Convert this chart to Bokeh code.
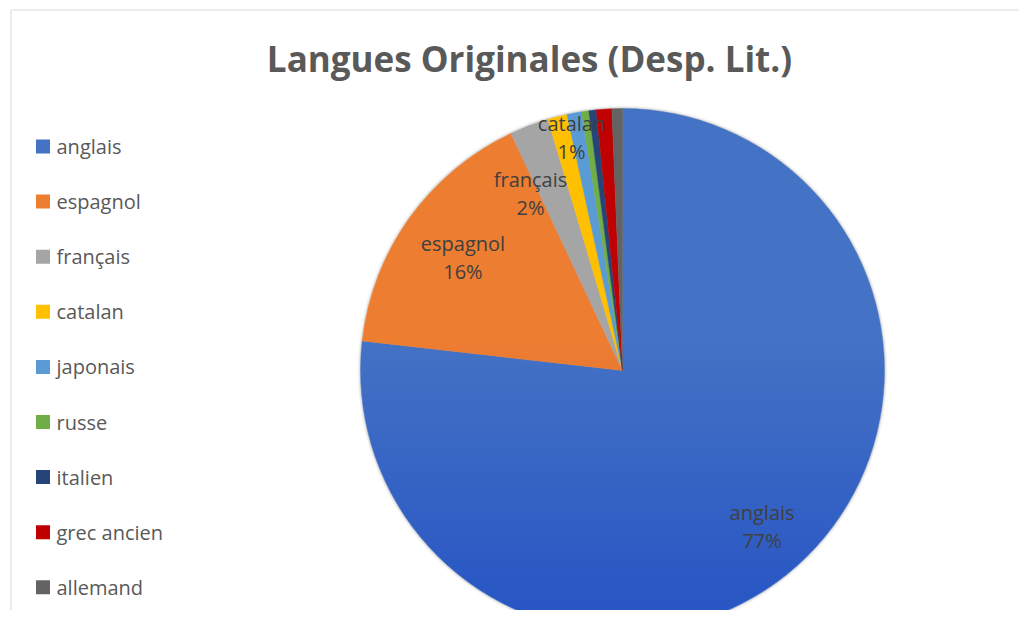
import numpy as np
from bokeh.plotting import figure
from bokeh.models import Range1d, ColumnDataSource
from bokeh.embed import file_html
from bokeh.resources import INLINE
from bokeh.core.properties import value

# ---- data ----
categories = ["anglais", "espagnol", "français", "catalan", "japonais",
              "russe", "italien", "grec ancien", "allemand"]
values = [76.8, 16.2, 2.4, 1.2, 0.9, 0.45, 0.45, 0.95, 0.65]
colors = ["#4472C4", "#ED7D31", "#A5A5A5", "#FFC000", "#5B9BD5",
          "#70AD47", "#264478", "#C00000", "#636363"]
labelled = ["anglais", "espagnol", "français", "catalan"]
title_text = "Langues Originales (Desp. Lit.)"

# ---- layout ----
W, H = 1019, 610
def px(x):  # picture x -> data x
    return x
def py(y):  # picture y -> data y
    return H - y

cx, cy, R = px(622), py(370), 262

p = figure(width=W, height=H, x_range=Range1d(0, W), y_range=Range1d(0, H),
           output_backend="svg", toolbar_location=None, min_border=0)
p.axis.visible = False
p.grid.visible = False
p.outline_line_color = None
p.background_fill_color = "white"
p.border_fill_color = "white"

# chart area border (left and top visible)
p.line([px(10.5), px(10.5), W + 5], [-5, py(9.5), py(9.5)], line_color="#D9D9D9", line_width=1)

vals = np.array(values, dtype=float)
frac = vals / vals.sum()
cum_end = np.cumsum(frac)
cum_start = cum_end - frac
start_angle = np.pi / 2 - cum_end * 2 * np.pi
end_angle = np.pi / 2 - cum_start * 2 * np.pi

# soft shadow
for i, a in enumerate([0.03, 0.05, 0.07]):
    p.circle(x=[cx], y=[cy], radius=R + 3 - i, fill_color="#000000", fill_alpha=a,
             line_color=None, radius_units="data")

src = ColumnDataSource(dict(cat=categories, start=start_angle, end=end_angle, color=colors))
p.wedge(x=cx, y=cy, radius=R, start_angle="start", end_angle="end", direction="anticlock",
        fill_color="color", line_color="color", line_width=0.4, source=src)

# vertical shading (lighter at top, darker at bottom)
N = 30
def seg_above(yl):
    th0 = np.arcsin(np.clip((yl - cy) / R, -1, 1))
    th = np.linspace(th0, np.pi - th0, 120)
    return list(cx + R * np.cos(th)), list(cy + R * np.sin(th))
def seg_below(yl):
    th0 = np.arcsin(np.clip((yl - cy) / R, -1, 1))
    th = np.linspace(np.pi - th0, 2 * np.pi + th0, 120)
    return list(cx + R * np.cos(th)), list(cy + R * np.sin(th))
xs_w, ys_w, xs_d, ys_d = [], [], [], []
for k in range(1, N + 1):
    yl_top = cy + R - (R * 1.1) * k / N
    a, b = seg_above(yl_top)
    xs_w.append(a); ys_w.append(b)
    yl_bot = cy - R + (R * 1.1) * k / N
    a, b = seg_below(yl_bot)
    xs_d.append(a); ys_d.append(b)
p.patches(xs_w, ys_w, fill_color="white", fill_alpha=0.0055, line_color=None)
p.patches(xs_d, ys_d, fill_color="#102a8a", fill_alpha=0.0035, line_color=None)

# data labels
rfrac = {"anglais": 0.80, "espagnol": 0.74, "français": 0.76, "catalan": 0.92}
nudge = {"anglais": (0, 0), "espagnol": (-2, 0), "français": (-21, -9), "catalan": (9, 0)}
lx, ly, names, pcts = [], [], [], []
for i, c in enumerate(categories):
    if c in labelled:
        mid = (start_angle[i] + end_angle[i]) / 2
        r = R * rfrac[c]
        lx.append(cx + r * np.cos(mid) + nudge[c][0])
        ly.append(cy + r * np.sin(mid) + nudge[c][1])
        names.append(c)
        pcts.append(f"{round(frac[i] * 100)}%")
ly = np.array(ly)
p.text(x=lx, y=list(ly + 14), text=names, text_align="center", text_baseline="middle",
       text_font=value("Open Sans"), text_font_size="20px", text_color="#404040")
p.text(x=lx, y=list(ly - 14), text=pcts, text_align="center", text_baseline="middle",
       text_font=value("Open Sans"), text_font_size="20px", text_color="#404040")

# legend
leg_y = [py(146 + 55.1 * i) for i in range(len(categories))]
p.rect(x=[px(42.5)] * len(categories), y=leg_y, width=14, height=14,
       fill_color=colors, line_color=None)
p.text(x=[px(56)] * len(categories), y=leg_y, text=categories, text_align="left",
       text_baseline="middle", text_font=value("Open Sans"), text_font_size="20px",
       text_color="#595959")

# title
p.text(x=[px(529)], y=[py(58)], text=[title_text], text_align="center", text_baseline="middle",
       text_font=value("Open Sans"), text_font_size="35px", text_font_style="bold",
       text_color="#595959")

open("out.html", "w").write(file_html(p, INLINE))
